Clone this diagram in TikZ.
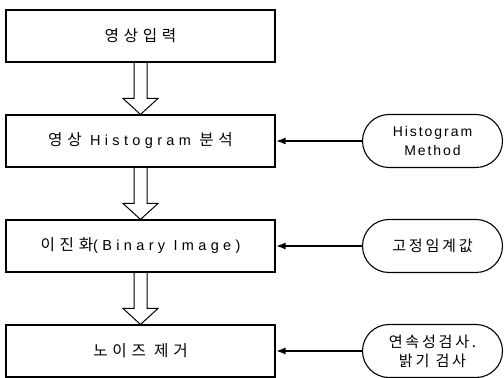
\documentclass[tikz,border=0pt]{standalone}
\usepackage{fontspec}
\setmainfont{Liberation Sans}[LetterSpace=30]
\newfontfamily\kr{Noto Sans CJK KR}[Scale=1.08,LetterSpace=30]
\newfontfamily\krnarrow{Noto Sans CJK KR}[Scale=1.08,LetterSpace=18]
\newfontfamily\latnarrow{Liberation Sans}[LetterSpace=14]
\usetikzlibrary{arrows.meta,shapes.misc,calc}

\tikzset{
	stepbox/.style={draw,line width=1.1pt,minimum width=269pt,minimum height=52pt,inner sep=0pt,font=\fontsize{14.5}{17}\selectfont},
	methodbox/.style={draw,line width=1.1pt,rounded rectangle,minimum width=140pt,minimum height=53pt,inner sep=0pt,align=center,font=\fontsize{14}{19}\selectfont\latnarrow},
	methodkr/.style={methodbox,font=\fontsize{14}{19}\selectfont\krnarrow},
	feed/.style={line width=2pt,-{Latex[length=10pt,width=7pt]}}
}
% hollow block arrow between two steps
\newcommand{\hollowarrow}[2]{%
	\draw[line width=1pt] let \p1=(#1.south), \p2=(#2.north) in
		(\x1-6.5pt,\y1) -- (\x1-6.5pt,\y2+16pt) -- (\x1-17.5pt,\y2+16pt) -- (\x2,\y2)
		-- (\x1+17.5pt,\y2+16pt) -- (\x1+6.5pt,\y2+16pt) -- (\x1+6.5pt,\y1);
}

\begin{document}
\begin{tikzpicture}[x=1pt,y=1pt]
	\useasboundingbox (0,0) rectangle (504,378);

	\coordinate (StepA) at (140.5,342);
	\coordinate (StepB) at (140.5,237);
	\coordinate (StepC) at (140.5,132);
	\coordinate (StepD) at (140.5,27);

	\node[stepbox] (Input)  at (StepA) {\kr 영상입력};
	\node[stepbox] (Hist)   at (StepB) {{\kr 영상} Histogram {\kr 분석}};
	\node[stepbox] (Binary) at (StepC) {{\kr 이진화}(Binary Image)};
	\node[stepbox] (Noise)  at (StepD) {\kr 노이즈 제거};

	\node[methodbox] (HistMethod) at (432.5,237) {Histogram\\Method};
	\node[methodkr]  (Thresh)     at (432.5,132) {고정임계값};
	\node[methodkr]  (Check)      at (432.5,27)  {연속성검사.\\밝기 검사};

	\hollowarrow{Input}{Hist}
	\hollowarrow{Hist}{Binary}
	\hollowarrow{Binary}{Noise}

	\draw[feed] (HistMethod.west) -- (Hist.east);
	\draw[feed] (Thresh.west) -- (Binary.east);
	\draw[feed] (Check.west) -- (Noise.east);
\end{tikzpicture}
\end{document}
